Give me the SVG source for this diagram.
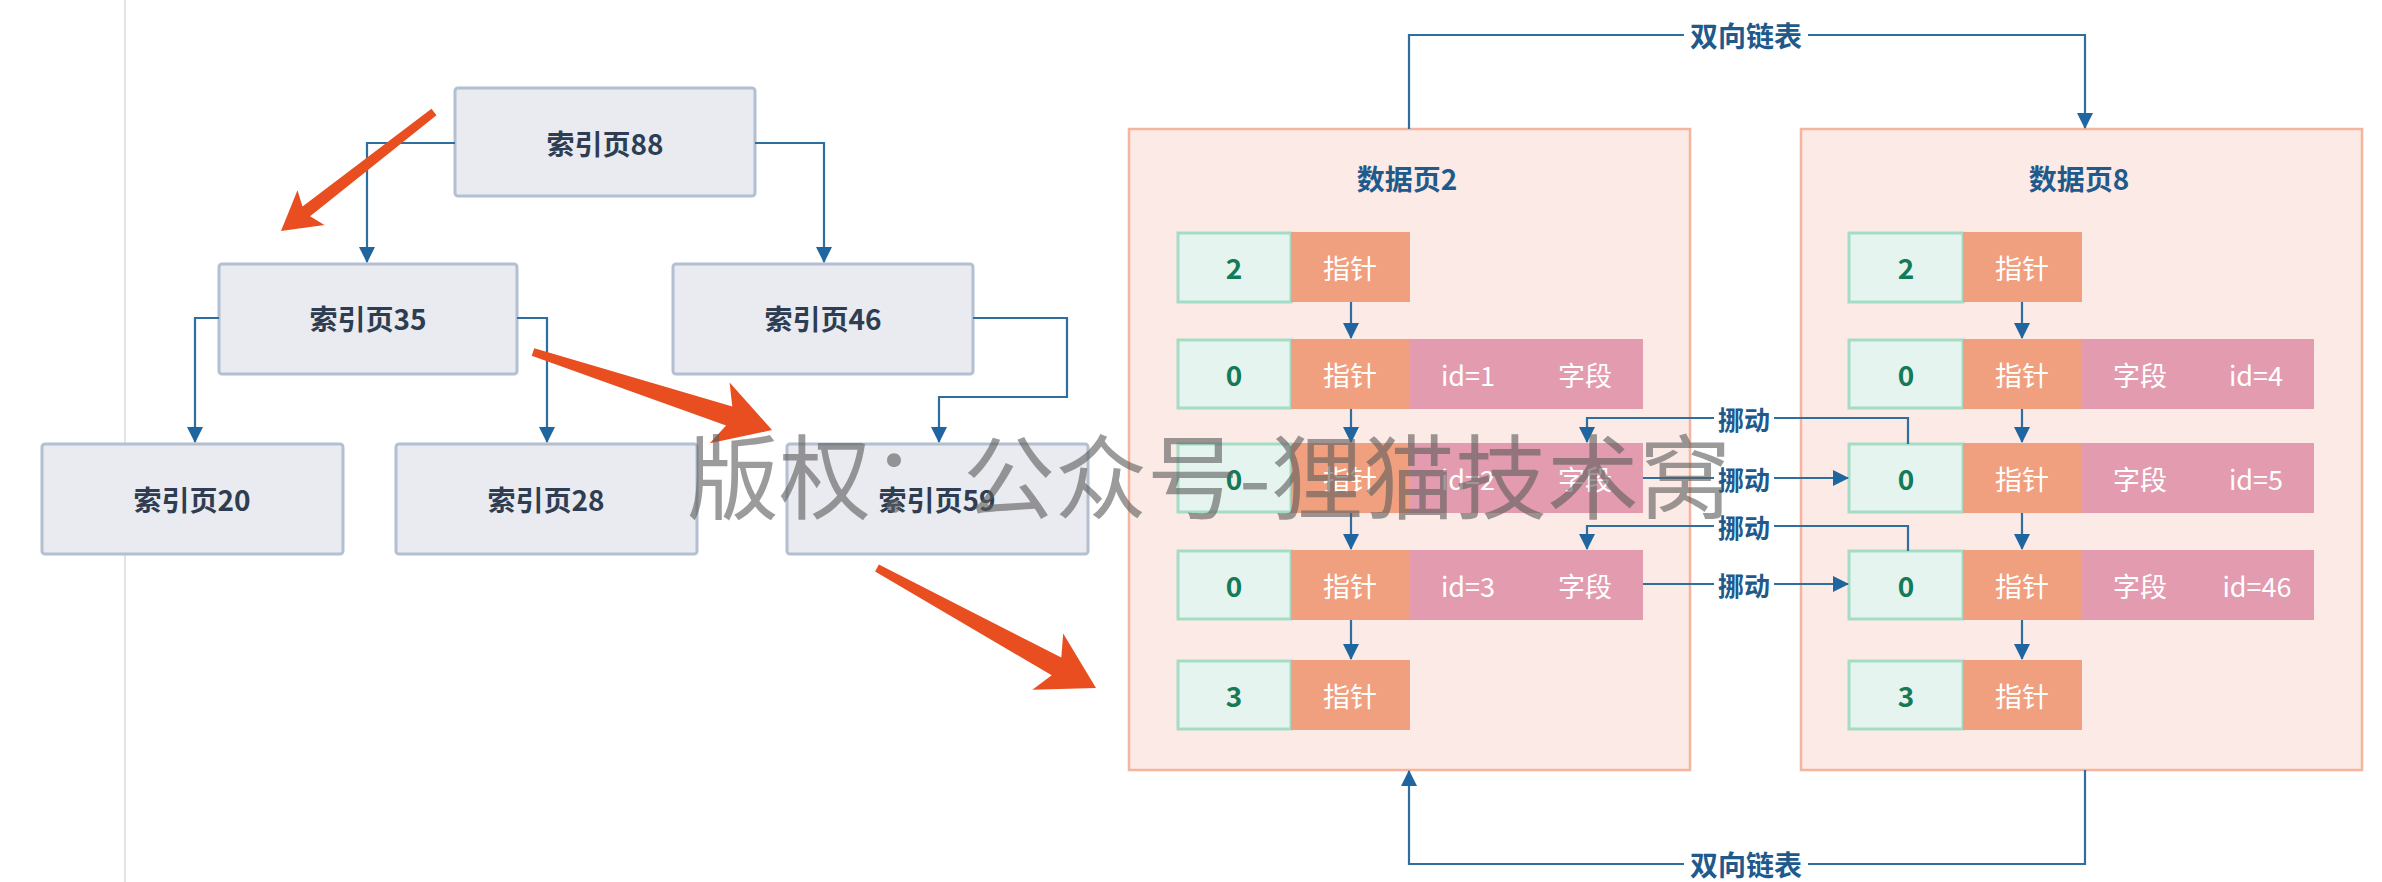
<svg xmlns="http://www.w3.org/2000/svg" width="2382" height="882" viewBox="0 0 2382 882">
<style>
  text { font-family: "Noto Sans CJK SC", "Noto Sans", "Liberation Sans", sans-serif; text-anchor: middle; dominant-baseline: central; }
  .idx rect { fill: #E9EBF0; stroke: #B3C0D1; stroke-width: 3; }
  .idx text { fill: #2E3D52; font-size: 28px; font-weight: bold; }
  .page { fill: #FBEAE5; stroke: #F4B59C; stroke-width: 2.5; }
  .title { fill: #1F5A8C; font-size: 28px; font-weight: bold; }
  .c0 { fill: #E5F4EF; stroke: #A5DCC6; stroke-width: 3; }
  .cp { fill: #F1A07F; }
  .ck { fill: #E39BAF; }
  .t0 { fill: #147A57; font-size: 28px; font-weight: bold; }
  .tw { fill: #FFFFFF; font-size: 27px; }
  .conn path { fill: none; stroke: #2F6F9F; stroke-width: 2.2; }
  .lbl { fill: #1F5A8C; font-size: 26px; font-weight: bold; }
  .lbl2 { fill: #1F5A8C; font-size: 28px; font-weight: bold; }
  .red { fill: #E84E1F; }
  .wm { fill: #5E5E5E; fill-opacity: 0.62; font-size: 92px; text-anchor: start; dominant-baseline: auto; }
</style>
<defs>
  <marker id="ah" markerUnits="userSpaceOnUse" markerWidth="18" markerHeight="18" refX="15" refY="8" orient="auto">
    <path d="M0,0 L16,8 L0,16 Z" fill="#1F66A0"/>
  </marker>
</defs>
<rect x="0" y="0" width="2382" height="882" fill="#FFFFFF"/>
<line x1="125" y1="0" x2="125" y2="882" stroke="#E2E4E8" stroke-width="2"/>

<!-- index pages -->
<g id="idx88" class="idx"><rect x="455" y="88" width="300" height="108" rx="3"/><text x="605" y="143">索引页88</text></g>
<g id="idx35" class="idx"><rect x="219" y="264" width="298" height="110" rx="3"/><text x="368" y="318">索引页35</text></g>
<g id="idx46" class="idx"><rect x="673" y="264" width="300" height="110" rx="3"/><text x="823" y="318">索引页46</text></g>
<g id="idx20" class="idx"><rect x="42" y="444" width="301" height="110" rx="3"/><text x="192" y="499">索引页20</text></g>
<g id="idx28" class="idx"><rect x="396" y="444" width="301" height="110" rx="3"/><text x="546" y="499">索引页28</text></g>
<g id="idx59" class="idx"><rect x="787" y="444" width="301" height="110" rx="3"/><text x="937" y="499">索引页59</text></g>

<!-- data page containers -->
<g id="page2">
  <rect class="page" x="1129" y="129" width="561" height="641"/>
  <text class="title" x="1407" y="178">数据页2</text>
</g>
<g id="page8">
  <rect class="page" x="1801" y="129" width="561" height="641"/>
  <text class="title" x="2079" y="178">数据页8</text>
</g>

<!-- page 2 records -->
<g id="p2r1"><rect class="c0" x="1178" y="233" width="113" height="69"/><rect class="cp" x="1291" y="232" width="119" height="70"/><text class="t0" x="1234" y="267">2</text><text class="tw" x="1350" y="267">指针</text></g>
<g id="p2r2"><rect class="c0" x="1178" y="340" width="113" height="68"/><rect class="cp" x="1291" y="339" width="119" height="70"/><rect class="ck" x="1410" y="339" width="233" height="70"/><text class="t0" x="1234" y="374">0</text><text class="tw" x="1350" y="374">指针</text><text class="tw" x="1468" y="374">id=1</text><text class="tw" x="1585" y="374">字段</text></g>
<g id="p2r3"><rect class="c0" x="1178" y="444" width="113" height="68"/><rect class="cp" x="1291" y="443" width="119" height="70"/><rect class="ck" x="1410" y="443" width="233" height="70"/><text class="t0" x="1234" y="478">0</text><text class="tw" x="1350" y="478">指针</text><text class="tw" x="1468" y="478">id=2</text><text class="tw" x="1585" y="478">字段</text></g>
<g id="p2r4"><rect class="c0" x="1178" y="551" width="113" height="68"/><rect class="cp" x="1291" y="550" width="119" height="70"/><rect class="ck" x="1410" y="550" width="233" height="70"/><text class="t0" x="1234" y="585">0</text><text class="tw" x="1350" y="585">指针</text><text class="tw" x="1468" y="585">id=3</text><text class="tw" x="1585" y="585">字段</text></g>
<g id="p2r5"><rect class="c0" x="1178" y="661" width="113" height="68"/><rect class="cp" x="1291" y="660" width="119" height="70"/><text class="t0" x="1234" y="695">3</text><text class="tw" x="1350" y="695">指针</text></g>

<!-- page 8 records -->
<g id="p8r1"><rect class="c0" x="1849" y="233" width="114" height="69"/><rect class="cp" x="1963" y="232" width="119" height="70"/><text class="t0" x="1906" y="267">2</text><text class="tw" x="2022" y="267">指针</text></g>
<g id="p8r2"><rect class="c0" x="1849" y="340" width="114" height="68"/><rect class="cp" x="1963" y="339" width="119" height="70"/><rect class="ck" x="2082" y="339" width="232" height="70"/><text class="t0" x="1906" y="374">0</text><text class="tw" x="2022" y="374">指针</text><text class="tw" x="2140" y="374">字段</text><text class="tw" x="2256" y="374">id=4</text></g>
<g id="p8r3"><rect class="c0" x="1849" y="444" width="114" height="68"/><rect class="cp" x="1963" y="443" width="119" height="70"/><rect class="ck" x="2082" y="443" width="232" height="70"/><text class="t0" x="1906" y="478">0</text><text class="tw" x="2022" y="478">指针</text><text class="tw" x="2140" y="478">字段</text><text class="tw" x="2256" y="478">id=5</text></g>
<g id="p8r4"><rect class="c0" x="1849" y="551" width="114" height="68"/><rect class="cp" x="1963" y="550" width="119" height="70"/><rect class="ck" x="2082" y="550" width="232" height="70"/><text class="t0" x="1906" y="585">0</text><text class="tw" x="2022" y="585">指针</text><text class="tw" x="2140" y="585">字段</text><text class="tw" x="2257" y="585">id=46</text></g>
<g id="p8r5"><rect class="c0" x="1849" y="661" width="114" height="68"/><rect class="cp" x="1963" y="660" width="119" height="70"/><text class="t0" x="1906" y="695">3</text><text class="tw" x="2022" y="695">指针</text></g>

<!-- connectors -->
<g id="connectors" class="conn">
  <path d="M455,143 H367 V262" marker-end="url(#ah)"/>
  <path d="M755,143 H824 V262" marker-end="url(#ah)"/>
  <path d="M219,318 H195 V442" marker-end="url(#ah)"/>
  <path d="M517,318 H547 V442" marker-end="url(#ah)"/>
  <path d="M973,318 H1067 V397 H939 V442" marker-end="url(#ah)"/>

  <path d="M1351,302 V338" marker-end="url(#ah)"/>
  <path d="M1351,409 V442" marker-end="url(#ah)"/>
  <path d="M1351,513 V549" marker-end="url(#ah)"/>
  <path d="M1351,620 V659" marker-end="url(#ah)"/>
  <path d="M2022,302 V338" marker-end="url(#ah)"/>
  <path d="M2022,409 V442" marker-end="url(#ah)"/>
  <path d="M2022,513 V549" marker-end="url(#ah)"/>
  <path d="M2022,620 V659" marker-end="url(#ah)"/>

  <path d="M1908,444 V418 H1587 V442" marker-end="url(#ah)"/>
  <path d="M1643,478 H1848" marker-end="url(#ah)"/>
  <path d="M1908,551 V526 H1587 V549" marker-end="url(#ah)"/>
  <path d="M1643,584 H1848" marker-end="url(#ah)"/>

  <path d="M1409,129 V35 H2085 V128" marker-end="url(#ah)"/>
  <path d="M2085,770 V864 H1409 V771" marker-end="url(#ah)"/>

  <rect x="1714" y="404" width="60" height="28" fill="#FFFFFF"/>
  <text class="lbl" x="1744" y="418">挪动</text>
  <rect x="1714" y="464" width="60" height="28" fill="#FFFFFF"/>
  <text class="lbl" x="1744" y="478">挪动</text>
  <rect x="1714" y="512" width="60" height="28" fill="#FFFFFF"/>
  <text class="lbl" x="1744" y="526">挪动</text>
  <rect x="1714" y="570" width="60" height="28" fill="#FFFFFF"/>
  <text class="lbl" x="1744" y="584">挪动</text>
  <rect x="1684" y="18" width="124" height="34" fill="#FFFFFF"/>
  <text class="lbl2" x="1746" y="35">双向链表</text>
  <rect x="1684" y="847" width="124" height="34" fill="#FFFFFF"/>
  <text class="lbl2" x="1746" y="864">双向链表</text>
</g>

<!-- red highlight arrows -->
<g id="red-arrows">
  <polygon class="red" points="431.5,108.8 302.5,206.5 297.5,190.3 281,231 324.5,225.1 310.1,216.3 436.5,115.2"/>
  <polygon class="red" points="531.7,355.8 726.1,425.5 709.8,443.3 772,430 729.6,382.5 732.3,406.5 534.3,348.2"/>
  <polygon class="red" points="875.1,571.5 1051.7,675.2 1032.4,689.7 1096,688 1063.2,633.5 1061.3,657.6 878.9,564.5"/>
</g>

<!-- watermark -->
<text class="wm" x="687" y="512">版权：公众号-狸猫技术窝</text>
</svg>
